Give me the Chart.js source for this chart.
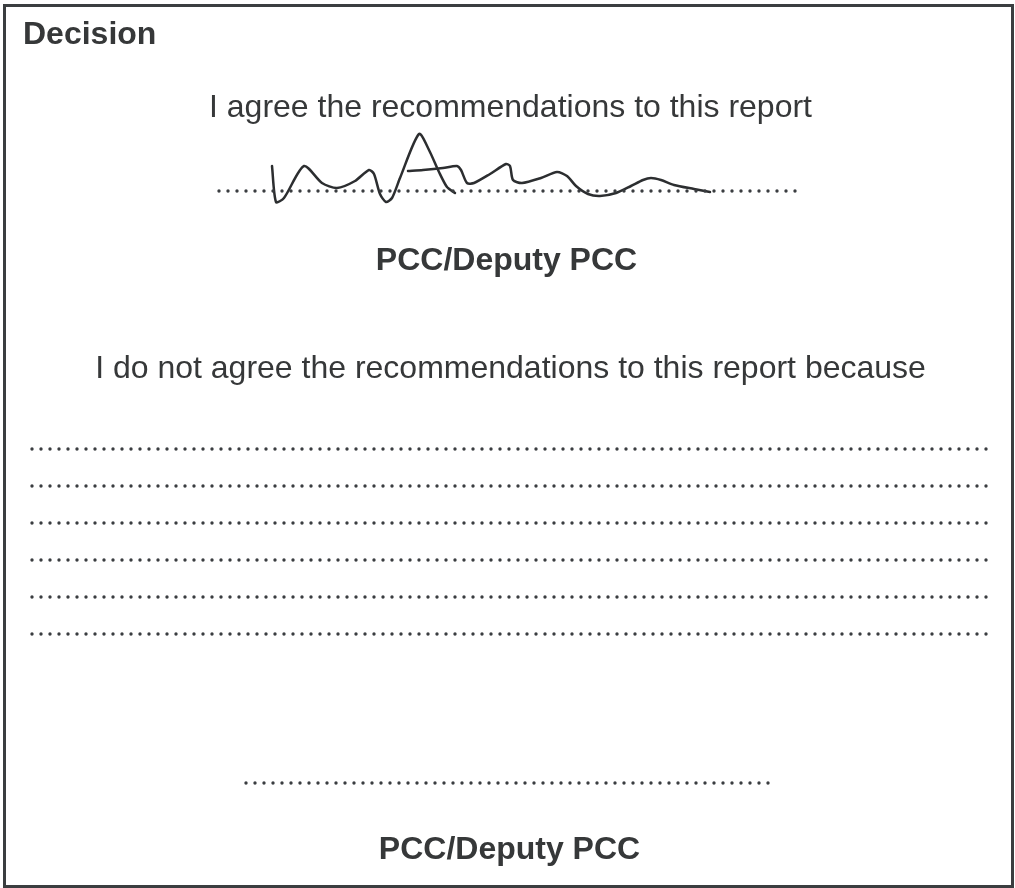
<!DOCTYPE html>
<html>
<head>
<meta charset="utf-8">
<script src="https://cdn.jsdelivr.net/npm/chart.js@4.4.1/dist/chart.umd.min.js"></script>
<style>
  html, body { margin: 0; padding: 0; background: #ffffff; }
  #wrap { position: relative; width: 1015px; height: 888px; overflow: hidden; background: #fff; }
  #chart { position: absolute; left: 0; top: 0; }
  .frame { position: absolute; left: 3px; top: 4px; width: 1005px; height: 878px; border: 3px solid #3b3e40; box-sizing: content-box; }
  .t { position: absolute; font-family: "Liberation Sans", Arial, sans-serif; font-size: 32px; line-height: 32px; color: #363839; white-space: nowrap; }
  .b { font-weight: bold; }
  .c { left: 0; width: 1015px; text-align: center; }
</style>
</head>
<body>
<div id="wrap">
  <canvas id="chart" width="1015" height="888" style="width:1015px;height:888px;"></canvas>
  <div class="frame"></div>
  <div class="t b" style="left:23px; top:17px;">Decision</div>
  <div class="t c" style="top:90px; left:3px;">I agree the recommendations to this report</div>
  <div class="t b c" style="top:243px; left:-1px;">PCC/Deputy PCC</div>
  <div class="t c" style="top:351px; left:3px;">I do not agree the recommendations to this report because</div>
  <div class="t b c" style="top:832px; left:2px;">PCC/Deputy PCC</div>
</div>
<script>
// Page-space value ranges (the chart area spans the whole page)
const xRange = [0, 1015];
const yRange = [0, 888];

// Dotted ruling lines
const signatureRuleY = 191;
const signatureRuleX = [219, 799];
const reasonRowsY = [449, 486, 523, 560, 597, 634];
const reasonRowX = [32, 987];
const bottomRuleY = 783;
const bottomRuleX = [246, 776];

// Handwritten signature strokes
const sigStroke1X = [272, 276, 284, 304, 322, 337, 355, 369, 374, 380, 386, 392, 400, 419, 429, 439, 447, 455];
const sigStroke1Y = [166, 202, 198, 166, 183, 188, 181, 170, 174, 194, 202, 198, 178, 134, 150, 172, 187, 193];
const sigStroke2X = [408, 423, 443, 457, 461, 467, 474, 490, 506, 510, 513, 522, 541, 557, 567, 576, 588, 600, 616, 631, 643, 651, 661, 674, 694, 710];
const sigStroke2Y = [171, 170, 168, 166, 170, 183, 183, 174, 164, 166, 180, 183, 178, 172, 176, 186, 194, 196, 193, 186, 180, 178, 180, 185, 189, 192];

const dotColor = '#3a3d40';
const inkColor = '#2c2e30';

function pts(xs, ys) { return xs.map((x, i) => ({ x: x, y: ys[i] })); }
function rule(y, xr) {
  return {
    data: [{ x: xr[0], y: y }, { x: xr[1], y: y }],
    showLine: true, borderColor: dotColor, borderWidth: 3.4,
    borderDash: [0, 9], borderCapStyle: 'round',
    pointRadius: 0, tension: 0
  };
}
function stroke(xs, ys) {
  return {
    data: pts(xs, ys), showLine: true, borderColor: inkColor, borderWidth: 2.5,
    pointRadius: 0, tension: 0.25, borderCapStyle: 'round', borderJoinStyle: 'round'
  };
}

const datasets = [];
datasets.push(rule(signatureRuleY, signatureRuleX));
reasonRowsY.forEach(y => datasets.push(rule(y, reasonRowX)));
datasets.push(rule(bottomRuleY, bottomRuleX));
datasets.push(stroke(sigStroke1X, sigStroke1Y));
datasets.push(stroke(sigStroke2X, sigStroke2Y));

new Chart(document.getElementById('chart'), {
  type: 'scatter',
  data: { datasets: datasets },
  options: {
    responsive: false,
    maintainAspectRatio: false,
    animation: false,
    devicePixelRatio: 1,
    layout: { padding: 0 },
    plugins: { legend: { display: false }, tooltip: { enabled: false } },
    scales: {
      x: { type: 'linear', min: xRange[0], max: xRange[1], display: false },
      y: { type: 'linear', min: yRange[0], max: yRange[1], reverse: true, display: false }
    }
  }
});
</script>
</body>
</html>
